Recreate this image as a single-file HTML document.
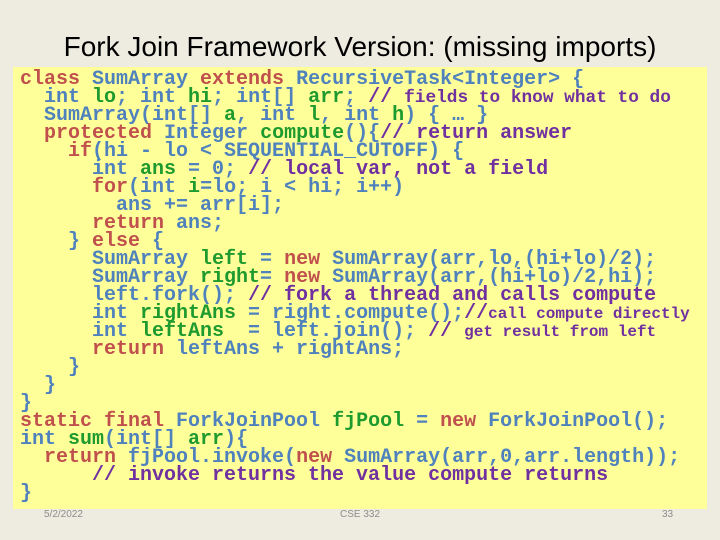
<!DOCTYPE html>
<html><head><meta charset="utf-8"><style>
html,body{margin:0;padding:0}
body{width:720px;height:540px;background:#EEECE1;position:relative;overflow:hidden;font-family:"Liberation Sans",sans-serif}
.title{position:absolute;left:0;width:720px;top:31px;text-align:center;font-size:28px;color:#000;line-height:32px}
.box{position:absolute;left:13px;top:67px;width:694px;height:442px;background:#FFFF99}
pre{position:absolute;left:20px;top:71px;margin:0;font-family:"Liberation Mono",monospace;font-weight:bold;font-size:20px;line-height:18px;color:#4F81BD;white-space:pre;-webkit-text-stroke:0}
.r{color:#C0504D}.g{color:#1E9A2E}.p{color:#7030A0}
.s{font-size:17.8px}.t{font-size:16px}
.f{position:absolute;top:509px;font-size:10px;color:#8C8C8C}
</style></head><body>
<div class="title">Fork Join Framework Version: (missing imports)</div>
<div class="box"></div>
<pre><span class="r">class</span> SumArray <span class="r">extends</span> RecursiveTask&lt;Integer&gt; {
  int <span class="g">lo</span>; int <span class="g">hi</span>; int[] <span class="g">arr</span>; <span class="p">// <span class="s">fields to know what to do</span></span>
  SumArray(int[] <span class="g">a</span>, int <span class="g">l</span>, int <span class="g">h</span>) { … }
  <span class="r">protected</span> Integer <span class="g">compute</span>(){<span class="p">// return answer</span>
    <span class="r">if</span>(hi - lo &lt; SEQUENTIAL_CUTOFF) {
      int <span class="g">ans</span> = 0; <span class="p">// local var, not a field</span>
      <span class="r">for</span>(int <span class="g">i</span>=lo; i &lt; hi; i++)
        ans += arr[i];
      <span class="r">return</span> ans;
    } <span class="r">else</span> {
      SumArray <span class="g">left</span> = <span class="r">new</span> SumArray(arr,lo,(hi+lo)/2);
      SumArray <span class="g">right</span>= <span class="r">new</span> SumArray(arr,(hi+lo)/2,hi);
      left.fork(); <span class="p">// fork a thread and calls compute</span>
      int <span class="g">rightAns</span> = right.compute();<span class="p">//<span class="t">call compute directly</span></span>
      int <span class="g">leftAns</span>  = left.join(); <span class="p">// <span class="t">get result from left</span></span>
      <span class="r">return</span> leftAns + rightAns;
    }
  }
}
<span class="r">static final</span> ForkJoinPool <span class="g">fjPool</span> = <span class="r">new</span> ForkJoinPool();
int <span class="g">sum</span>(int[] <span class="g">arr</span>){
  <span class="r">return</span> fjPool.invoke(<span class="r">new</span> SumArray(arr,0,arr.length));
      <span class="p">// invoke returns the value compute returns</span>
}</pre>
<div class="f" style="left:44px">5/2/2022</div>
<div class="f" style="left:340px">CSE 332</div>
<div class="f" style="left:662px">33</div>
</body></html>
